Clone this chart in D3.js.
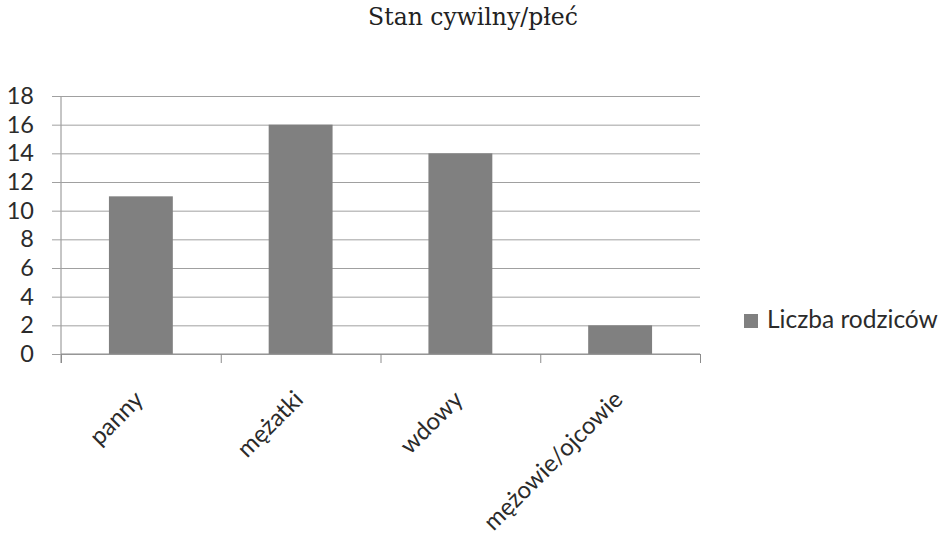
<!DOCTYPE html>
<html>
<head>
<meta charset="utf-8">
<script src="https://cdn.jsdelivr.net/npm/d3@7"></script>
<style>
  html, body { margin: 0; padding: 0; background: #fff; }
  svg { display: block; }
</style>
</head>
<body>
<svg id="chart" width="944" height="540"></svg>
<script>
const title = "Stan cywilny/płeć";
const categories = ["panny", "mężatki", "wdowy", "mężowie/ojcowie"];
const values = [11, 16, 14, 2];
const seriesName = "Liczba rodziców";
const yTicks = [0, 2, 4, 6, 8, 10, 12, 14, 16, 18];

const svg = d3.select("#chart");
const mLeft = 61, mRight = 700, mTop = 96, mBottom = 354;
const plotW = mRight - mLeft;

const x = d3.scaleBand().domain(categories).range([mLeft, mRight]).padding(0);
const y = d3.scaleLinear().domain([0, 18]).range([mBottom, mTop]);
const bounds = d3.scalePoint().domain(d3.range(categories.length + 1)).range([mLeft, mRight]);

const axisColor = "#8c8c8c";
const gridColor = "#a0a0a0";
const textColor = "#2b2b2b";
const sans = "Lato";

// title
svg.append("text")
  .attr("x", 473).attr("y", 25)
  .attr("text-anchor", "middle")
  .attr("font-family", "DejaVu Serif")
  .attr("font-size", 23.5)
  .attr("fill", "#222")
  .text(title);

// y axis with gridlines
const yAxis = svg.append("g")
  .attr("transform", `translate(${mLeft},0)`)
  .call(d3.axisLeft(y).tickValues(yTicks).tickSize(9).tickPadding(18).tickFormat(d3.format("d")));
yAxis.select(".domain").attr("stroke", axisColor).attr("d", `M0,${mTop}V${mBottom + 9}`);
yAxis.selectAll(".tick line").attr("x1", plotW).attr("stroke", gridColor);
yAxis.selectAll(".tick text")
  .attr("font-family", sans)
  .attr("font-size", 23.5)
  .attr("fill", textColor);

// bars
const barW = x.bandwidth() * 0.4;
svg.append("g").selectAll("rect")
  .data(values)
  .join("rect")
  .attr("x", (d, i) => x(categories[i]) + (x.bandwidth() - barW) / 2)
  .attr("y", d => y(d))
  .attr("width", barW)
  .attr("height", d => y(0) - y(d))
  .attr("fill", "#808080");

// x axis: boundary ticks
const xTickAxis = svg.append("g")
  .attr("transform", `translate(0,${mBottom})`)
  .call(d3.axisBottom(bounds).tickSize(9).tickFormat(""));
xTickAxis.select(".domain").attr("stroke", axisColor).attr("d", `M${mLeft},0H${mRight}`);
xTickAxis.selectAll(".tick line").attr("stroke", axisColor);

// x labels
const xLab = svg.append("g")
  .attr("transform", `translate(0,${mBottom})`)
  .call(d3.axisBottom(x).tickSize(0));
xLab.select(".domain").remove();
xLab.selectAll(".tick text")
  .attr("x", 0).attr("y", 0).attr("dy", null)
  .attr("text-anchor", "end")
  .attr("transform", "translate(4,47) rotate(-45)")
  .attr("font-family", sans)
  .attr("font-size", 24)
  .attr("fill", textColor);

// legend
const lg = svg.append("g");
lg.append("rect").attr("x", 744).attr("y", 314).attr("width", 14).attr("height", 14).attr("fill", "#808080");
lg.append("text").attr("x", 767).attr("y", 328)
  .attr("font-family", sans).attr("font-size", 24.5).attr("fill", textColor)
  .text(seriesName);
</script>
</body>
</html>
